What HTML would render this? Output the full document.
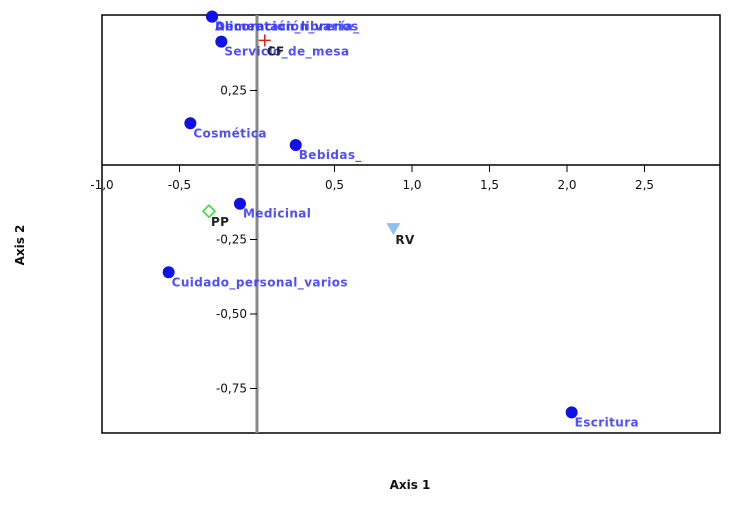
<!DOCTYPE html>
<html><head><meta charset="utf-8"><style>
body{margin:0;background:#fff;}
svg{font-family:"DejaVu Sans","Liberation Sans",sans-serif;}
</style></head><body>
<svg width="730" height="501" viewBox="0 0 730 501">
<rect x="102" y="15" width="618" height="418" fill="none" stroke="#000" stroke-width="1.5"/>
<g id="axes"></g>
<g id="marks"></g>
<text x="410" y="489" text-anchor="middle" font-size="12" font-weight="bold" fill="#111">Axis 1</text>
<text x="24" y="245" text-anchor="middle" font-size="12" font-weight="bold" fill="#111" transform="rotate(-90 24 245)">Axis 2</text>
</svg>
<script>
const xTicks=[-1.0,-0.5,0.5,1.0,1.5,2.0,2.5];
const xTickLabels=["-1,0","-0,5","0,5","1,0","1,5","2,0","2,5"];
const yTicks=[0.25,-0.25,-0.5,-0.75];
const yTickLabels=["0,25","-0,25","-0,50","-0,75"];
const catNames=["Alimentación_varios","Decoración_librería_","Servicio_de_mesa","Cosmética","Bebidas_","Medicinal","Cuidado_personal_varios","Escritura"];
const catX=[-0.29,-0.29,-0.23,-0.43,0.25,-0.11,-0.57,2.03];
const catY=[0.498,0.498,0.414,0.14,0.067,-0.13,-0.36,-0.83];
const supNames=["CF","PP","RV"];
const supX=[0.05,-0.31,0.88];
const supY=[0.418,-0.155,-0.215];
const NS="http://www.w3.org/2000/svg";
const sx=v=>257+v*155, sy=v=>165-v*298;
function mk(t,a,p){const e=document.createElementNS(NS,t);for(const k in a)e.setAttribute(k,a[k]);p.appendChild(e);return e;}
const ax=document.getElementById('axes'), mg=document.getElementById('marks');
let l=mk('line',{x1:102,x2:720,y1:sy(0),y2:sy(0),stroke:'#000','stroke-width':1.5},ax);


l=mk('line',{x1:sx(0),x2:sx(0),y1:15,y2:433,stroke:'#888','stroke-width':3},ax);


xTicks.forEach((v,i)=>{
 const t=mk('line',{x1:sx(v),x2:sx(v),y1:sy(0),y2:sy(0)+7,stroke:'#000'},ax);
 
 
 const tx=mk('text',{x:sx(v),y:sy(0)+24,'text-anchor':'middle','font-size':12,fill:'#111'},ax);
 tx.textContent=xTickLabels[i];
 
 
});
yTicks.forEach((v,i)=>{
 const t=mk('line',{x1:sx(0)-7,x2:sx(0),y1:sy(v),y2:sy(v),stroke:'#000'},ax);
 
 
 const tx=mk('text',{x:sx(0)-10,y:sy(v)+4,'text-anchor':'end','font-size':12,fill:'#111'},ax);
 tx.textContent=yTickLabels[i];
 
 
});
catNames.forEach((n,i)=>{
 const x=sx(catX[i]), y=sy(catY[i]);
 const c=mk('circle',{cx:x,cy:y,r:6,fill:'#1010e8'},mg);
 
 
 const t=mk('text',{x:x+3,y:y+14,'font-size':12,'font-weight':'bold',fill:'#3030ff','fill-opacity':0.85,'letter-spacing':0.4},mg);
 t.textContent=n;
 
 
});
{const x=sx(supX[0]),y=sy(supY[0]);
 const g=mk('path',{d:`M${x-6} ${y}H${x+6}M${x} ${y-6}V${y+6}`,stroke:'#e02020','stroke-width':1.5},mg);
 
 }
{const x=sx(supX[1]),y=sy(supY[1]);
 const g=mk('path',{d:`M${x} ${y-6}L${x+6} ${y}L${x} ${y+6}L${x-6} ${y}Z`,fill:'none',stroke:'#30e030','stroke-width':1.5},mg);
 
 }
{const x=sx(supX[2]),y=sy(supY[2]);
 const g=mk('path',{d:`M${x-7} ${y-6}H${x+7}L${x} ${y+6}Z`,fill:'#90c0f0'},mg);
 
 }
supNames.forEach((n,i)=>{
 const t=mk('text',{x:sx(supX[i])+2,y:sy(supY[i])+15,'font-size':12,'font-weight':'bold',fill:'#222','letter-spacing':0.4},mg);
 t.textContent=n;
 
 
});
</script>
</body></html>
